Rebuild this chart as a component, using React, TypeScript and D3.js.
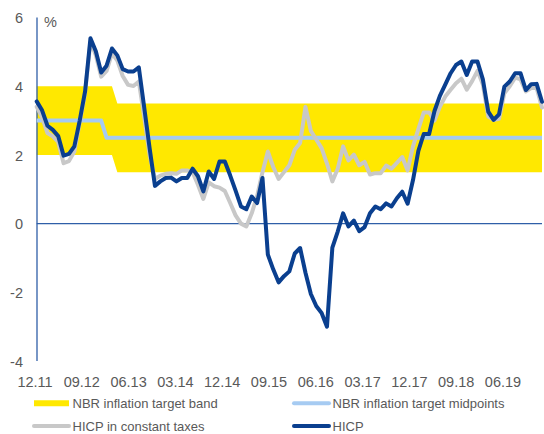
import React from "react";
import * as d3 from "d3";

// Monthly categories: 11.2011 ... 09.2019
const months: Date[] = d3.timeMonth.range(new Date(2011, 10, 1), new Date(2019, 9, 1));

const tickLabels = ["12.11", "09.12", "06.13", "03.14", "12.14", "09.15", "06.16", "03.17", "12.17", "09.18", "06.19"];
const yTicks = [-4, -2, 0, 2, 4, 6];

const bandLow = [
  2, 2, 2, 2, 2, 2, 2, 2, 2, 2, 2, 2, 2, 2, 2,
  1.5, 1.5, 1.5, 1.5, 1.5, 1.5, 1.5, 1.5, 1.5, 1.5, 1.5, 1.5, 1.5, 1.5, 1.5, 1.5, 1.5, 1.5, 1.5, 1.5,
  1.5, 1.5, 1.5, 1.5, 1.5, 1.5, 1.5, 1.5, 1.5, 1.5, 1.5, 1.5, 1.5, 1.5, 1.5, 1.5, 1.5, 1.5, 1.5, 1.5,
  1.5, 1.5, 1.5, 1.5, 1.5, 1.5, 1.5, 1.5, 1.5, 1.5, 1.5, 1.5, 1.5, 1.5, 1.5, 1.5, 1.5, 1.5, 1.5, 1.5,
  1.5, 1.5, 1.5, 1.5, 1.5, 1.5, 1.5, 1.5, 1.5, 1.5, 1.5, 1.5, 1.5, 1.5, 1.5, 1.5, 1.5, 1.5, 1.5, 1.5,
];
const bandHigh = [
  4, 4, 4, 4, 4, 4, 4, 4, 4, 4, 4, 4, 4, 4, 4,
  3.5, 3.5, 3.5, 3.5, 3.5, 3.5, 3.5, 3.5, 3.5, 3.5, 3.5, 3.5, 3.5, 3.5, 3.5, 3.5, 3.5, 3.5, 3.5, 3.5,
  3.5, 3.5, 3.5, 3.5, 3.5, 3.5, 3.5, 3.5, 3.5, 3.5, 3.5, 3.5, 3.5, 3.5, 3.5, 3.5, 3.5, 3.5, 3.5, 3.5,
  3.5, 3.5, 3.5, 3.5, 3.5, 3.5, 3.5, 3.5, 3.5, 3.5, 3.5, 3.5, 3.5, 3.5, 3.5, 3.5, 3.5, 3.5, 3.5, 3.5,
  3.5, 3.5, 3.5, 3.5, 3.5, 3.5, 3.5, 3.5, 3.5, 3.5, 3.5, 3.5, 3.5, 3.5, 3.5, 3.5, 3.5, 3.5, 3.5, 3.5,
];
const targetMid = [
  3, 3, 3, 3, 3, 3, 3, 3, 3, 3, 3, 3, 3,
  2.5, 2.5, 2.5, 2.5, 2.5, 2.5, 2.5, 2.5, 2.5, 2.5, 2.5, 2.5, 2.5, 2.5, 2.5, 2.5, 2.5, 2.5, 2.5, 2.5, 2.5,
  2.5, 2.5, 2.5, 2.5, 2.5, 2.5, 2.5, 2.5, 2.5, 2.5, 2.5, 2.5, 2.5, 2.5, 2.5, 2.5, 2.5, 2.5, 2.5, 2.5, 2.5,
  2.5, 2.5, 2.5, 2.5, 2.5, 2.5, 2.5, 2.5, 2.5, 2.5, 2.5, 2.5, 2.5, 2.5, 2.5, 2.5, 2.5, 2.5, 2.5, 2.5, 2.5,
  2.5, 2.5, 2.5, 2.5, 2.5, 2.5, 2.5, 2.5, 2.5, 2.5, 2.5, 2.5, 2.5, 2.5, 2.5, 2.5, 2.5, 2.5, 2.5, 2.5, 2.5,
];

const hicp = [
  3.56, 3.3, 2.85, 2.73, 2.55, 1.98, 2.03, 2.25, 3.0, 3.85,
  5.4, 5.02, 4.4, 4.6, 5.1, 4.9, 4.5, 4.43, 4.43, 4.55,
  3.38, 2.2, 1.1, 1.23, 1.33, 1.34, 1.23, 1.33, 1.33, 1.6,
  1.38, 0.94, 1.52, 1.3, 1.81, 1.81, 1.4, 0.96, 0.5, 0.42,
  0.79, 0.6, 1.33, -0.9, -1.33, -1.71, -1.53, -1.39, -0.87, -0.71,
  -1.43, -2.05, -2.4, -2.6, -3.0, -0.7, -0.23, 0.3, -0.08, 0.09,
  -0.22, -0.1, 0.3, 0.5, 0.42, 0.59, 0.5, 0.74, 0.93, 0.58,
  1.27, 2.12, 2.61, 2.61, 3.28, 3.72, 4.05, 4.38, 4.62, 4.72,
  4.33, 4.72, 4.72, 4.2, 3.26, 3.02, 3.18, 3.99, 4.14, 4.38,
  4.38, 3.89, 4.06, 4.07, 3.55,
];

const hicpConstTaxes = [
  3.4, 3.1, 2.64, 2.54, 2.38, 1.76, 1.82, 2.1, 2.95, 3.8,
  5.3, 4.9, 4.28, 4.45, 4.96, 4.75, 4.3, 4.04, 4.01, 4.14,
  3.1, 2.0, 1.3, 1.4, 1.45, 1.47, 1.45, 1.55, 1.55, 1.5,
  1.13, 0.72, 1.2, 1.09, 1.05, 0.95, 0.6, 0.24, 0.0, -0.08,
  0.3, 0.8, 1.5, 2.1, 1.65, 1.3, 1.5, 1.7, 2.15, 2.35,
  3.4, 2.7, 2.45, 2.2, 1.75, 1.23, 1.6, 2.25, 1.84, 2.01,
  1.7, 1.8, 1.43, 1.47, 1.47, 1.69, 1.6, 1.77, 1.94, 1.55,
  2.25, 2.75, 3.24, 3.24, 3.0, 3.4, 3.7, 3.9, 4.09, 4.22,
  3.9, 4.15, 4.45, 4.05, 3.12, 3.02, 3.05, 3.8, 4.0, 4.25,
  4.2, 3.85, 3.95, 3.95, 3.38,
];

const legendItems = [
  { label: "NBR inflation target band", color: "#ffe800", width: 6, cap: "butt" },
  { label: "NBR inflation target midpoints", color: "#a6cbf2", width: 4, cap: "round" },
  { label: "HICP in constant taxes", color: "#c8c8c8", width: 4, cap: "round" },
  { label: "HICP", color: "#0a3f8f", width: 4, cap: "round" },
];

const W = 544;
const H = 434;
const FONT = "'Liberation Sans', Arial, sans-serif";
const TEXT = "#595959";

export default function App() {
  const idx = months.map((_, i) => i);
  const x = d3.scalePoint<number>().domain(idx).range([36.7, 542]);
  const y = d3.scaleLinear().domain([-4, 6]).range([361, 17.6]);
  const xLab = d3.scalePoint<string>().domain(tickLabels).range([35, 503]);

  const area = d3
    .area<number>()
    .x((i) => x(i)!)
    .y0((i) => y(bandLow[i]))
    .y1((i) => y(bandHigh[i]));
  const line = (vals: number[]) =>
    d3
      .line<number>()
      .x((i) => x(i)!)
      .y((i) => y(vals[i]))(idx) || "";

  return (
    <svg
      width={W}
      height={H}
      style={{ position: "absolute", left: 0, top: 0, background: "#fff" }}
      fontFamily={FONT}
    >
      <path d={area(idx) || ""} fill="#ffe800" />
      {/* zero line */}
      <line x1={x(0)} x2={x(idx.length - 1)} y1={y(0)} y2={y(0)} stroke="#2f5fa8" strokeWidth={1.3} />
      {/* y axis */}
      <line x1={37} x2={37} y1={y(6)} y2={y(-4)} stroke="#2f5fa8" strokeWidth={1.3} />
      <path d={line(targetMid)} fill="none" stroke="#a6cbf2" strokeWidth={4} strokeLinejoin="round" />
      <path d={line(hicpConstTaxes)} fill="none" stroke="#c8c8c8" strokeWidth={4} strokeLinejoin="round" strokeLinecap="round" />
      <path d={line(hicp)} fill="none" stroke="#0a3f8f" strokeWidth={4} strokeLinejoin="round" strokeLinecap="round" />

      {yTicks.map((t) => (
        <text key={t} x={23} y={y(t) + 0.7} dy="0.35em" textAnchor="end" fontSize={14.5} fill={TEXT}>
          {t}
        </text>
      ))}
      <text x={44} y={27} fontSize={14.5} fill={TEXT}>%</text>

      {tickLabels.map((l) => (
        <text key={l} x={xLab(l)} y={387} textAnchor="middle" fontSize={14.5} fill={TEXT}>
          {l}
        </text>
      ))}

      {legendItems.map((it, k) => {
        const col = k % 2;
        const row = Math.floor(k / 2);
        const lx = col === 0 ? 34 : 294;
        const ly = row === 0 ? 403.3 : 426;
        return (
          <g key={it.label}>
            <line
              x1={lx}
              x2={lx + 35}
              y1={ly}
              y2={ly}
              stroke={it.color}
              strokeWidth={it.width}
              strokeLinecap={it.cap as any}
            />
            <text x={lx + 38.5} y={ly} dy="0.35em" fontSize={13} fill={TEXT}>
              {it.label}
            </text>
          </g>
        );
      })}
    </svg>
  );
}
